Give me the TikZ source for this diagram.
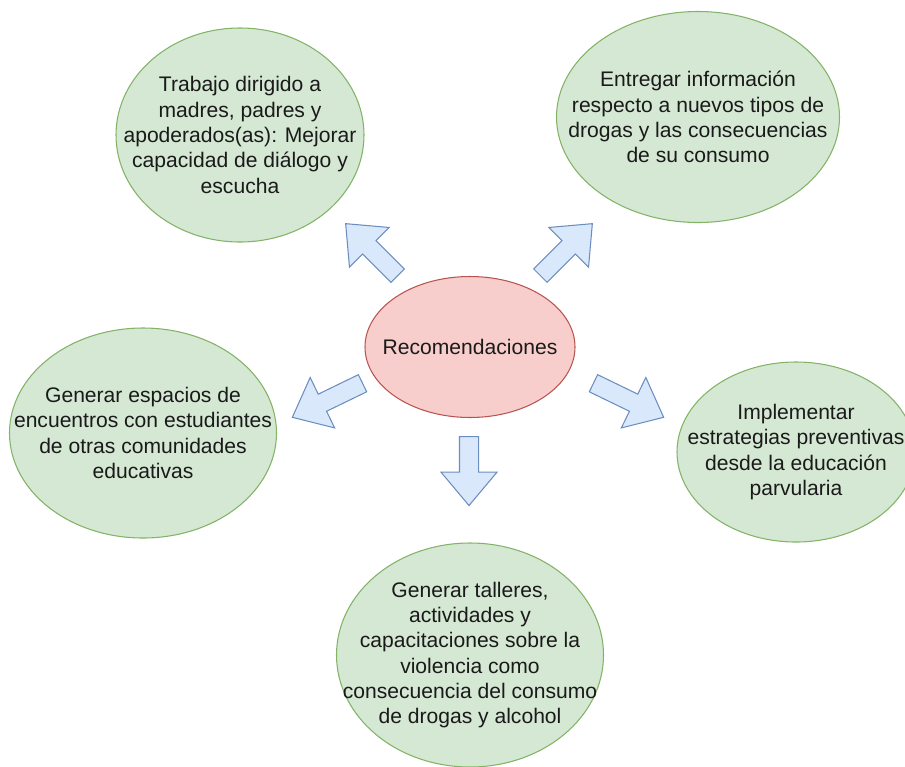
\documentclass[tikz,border=0pt]{standalone}
\usepackage{fontspec}
\setmainfont{Liberation Sans}
\usepackage{xcolor}
\usepackage{tikz}
\usetikzlibrary{shapes,shapes.arrows,calc}
\definecolor{greenfill}{HTML}{D5E8D4}
\definecolor{greenline}{HTML}{82B366}
\definecolor{redfill}{HTML}{F8CECC}
\definecolor{redline}{HTML}{B85450}
\definecolor{bluefill}{HTML}{DAE8FC}
\definecolor{blueline}{HTML}{6C8EBF}
\definecolor{txtgray}{HTML}{1A1A1A}
\tikzset{
    idea/.style={draw=greenline, fill=greenfill, ellipse, line width=0.6pt, inner sep=0pt},
    core/.style={draw=redline, fill=redfill, ellipse, line width=0.6pt, inner sep=0pt, minimum width=4.2cm, minimum height=2.82cm},
    idea text/.style={align=center, inner sep=0pt, text=txtgray, font=\fontsize{12}{14.4}\selectfont}}
\tikzset{
    fat arrow/.style={single arrow, draw=blueline, fill=bluefill, line width=0.6pt, inner xsep=0pt, inner ysep=0.18cm,
      minimum width=1.1cm, single arrow head extend=0.37cm, single arrow tip angle=80, anchor=tail}}

\begin{document}
\begin{tikzpicture}
\useasboundingbox (0,0) rectangle (18.1,-15.32);

%Centre
\node[core] (rec) at (9.4,-6.94) {};
\node[idea text] (rec-t) at (rec) {Recomendaciones};

%Recommendations
\node[idea, minimum width=4.96cm, minimum height=4.28cm] (madres) at (4.8,-2.7) {};
\node[idea text] (madres-t) at (madres) {Trabajo dirigido a\\madres, padres y\\apoderados(as): Mejorar\\capacidad de diálogo y\\escucha};
\node[idea, minimum width=5.66cm, minimum height=4.22cm] (info) at (13.96,-2.34) {};
\node[idea text] (info-t) at (info) {Entregar información\\respecto a nuevos tipos de\\drogas y las consecuencias\\de su consumo};
\node[idea, minimum width=5.34cm, minimum height=4.2cm] (encuentros) at (2.86,-8.66) {};
\node[idea text] (encuentros-t) at (encuentros) {Generar espacios de\\encuentros con estudiantes\\de otras comunidades\\educativas};
\node[idea, minimum width=4.76cm, minimum height=3.6cm] (parvularia) at (15.92,-9.04) {};
\node[idea text] (parvularia-t) at (parvularia) {Implementar\\estrategias preventivas\\desde la educación\\parvularia};
\node[idea, minimum width=5.34cm, minimum height=4.48cm] (talleres) at (9.4,-13.1) {};
\node[idea text] (talleres-t) at (talleres) {Generar talleres,\\actividades y\\capacitaciones sobre la\\violencia como\\consecuencia del consumo\\de drogas y alcohol};

%Block arrows
\coordinate (tail1) at (7.96,-5.52);
\coordinate (tail2) at (10.8,-5.52);
\coordinate (tail3) at (7.26,-7.66);
\coordinate (tail4) at (11.86,-7.66);
\coordinate (tail5) at (9.38,-8.72);
\node[fat arrow, minimum height=1.47cm, rotate=135] (toMadres) at (tail1) {};
\node[fat arrow, minimum height=1.47cm, rotate=45] (toInfo) at (tail2) {};
\node[fat arrow, minimum height=1.56cm, rotate=205.9] (toEncuentros) at (tail3) {};
\node[fat arrow, minimum height=1.56cm, rotate=-25.9] (toParvularia) at (tail4) {};
\node[fat arrow, minimum height=1.38cm, rotate=-90] (toTalleres) at (tail5) {};

\end{tikzpicture}
\end{document}
